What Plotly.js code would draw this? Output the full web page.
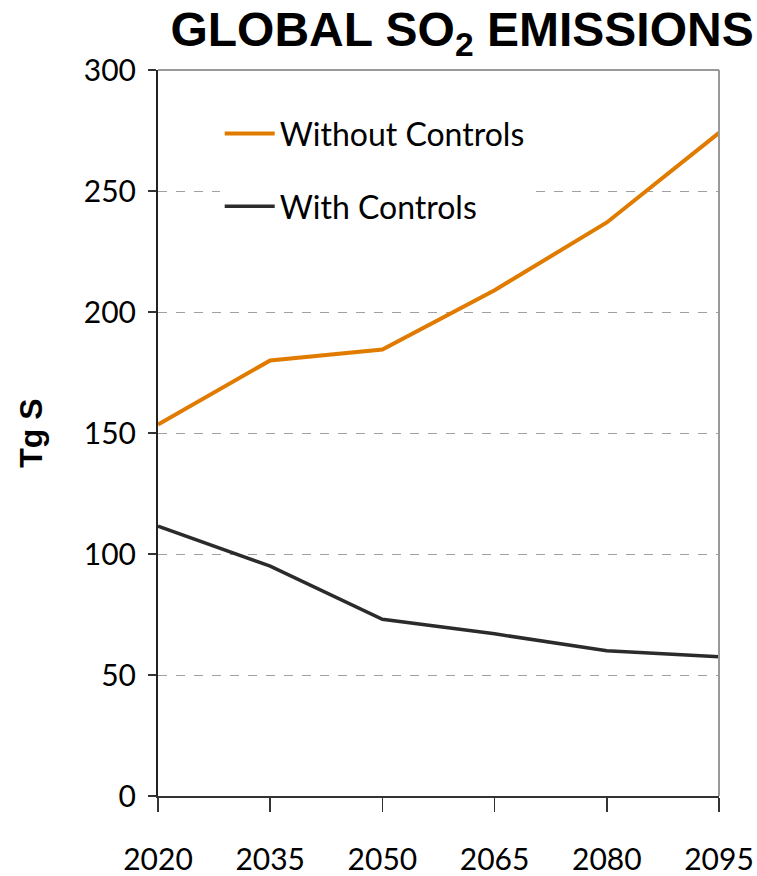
<!DOCTYPE html>
<html><head><meta charset="utf-8">
<script src="https://cdn.plot.ly/plotly-3.0.1.min.js"></script>
<style>html,body{margin:0;padding:0;background:#fff}</style>
</head><body>
<div id="chart" style="width:757px;height:876px"></div>
<script>
const years = [2020, 2035, 2050, 2065, 2080, 2095];
const withoutControls = [153.5, 180, 184.5, 209, 237, 274];
const withControls = [111.5, 95, 73, 67, 60, 57.5];
const yTicks = [0, 50, 100, 150, 200, 250, 300];

const traces = [
  {x: years, y: withoutControls, name: 'Without Controls', type: 'scatter', mode: 'lines',
   line: {color: '#E07B00', width: 4}, legendgroup: 'a'},
  {x: years, y: withControls, name: 'With Controls', type: 'scatter', mode: 'lines',
   line: {color: '#2b2b2b', width: 3.5}, legendgroup: 'b'}
];

const layout = {
  width: 757, height: 876,
  margin: {l: 158, r: 38, t: 70, b: 80},
  paper_bgcolor: '#fff', plot_bgcolor: '#fff',
  font: {family: 'Lato, "Open Sans", sans-serif', color: '#000'},
  title: {text: 'GLOBAL SO<sub>2</sub> EMISSIONS', x: 0.542, xref: 'paper', xanchor: 'center', y: 0.986, yanchor: 'top',
          font: {family: '"Liberation Sans", Arial, sans-serif', size: 48, weight: 'bold', color: '#000'}},
  xaxis: {
    range: [2020, 2095], tickvals: years, ticktext: years.map(String),
    showgrid: false, zeroline: false,
    showline: true, linecolor: '#333', linewidth: 2,
    ticks: 'outside', ticklen: 14, tickwidth: 1.5, tickcolor: '#333',
    ticklabelstandoff: 22,
    tickfont: {size: 30, family: 'Lato, sans-serif', color: '#000'}
  },
  yaxis: {
    range: [0, 300], tickvals: yTicks,
    showgrid: true, gridcolor: '#a0a0a0', griddash: 'dash', gridwidth: 1,
    zeroline: false,
    showline: true, linecolor: '#222', linewidth: 2,
    ticks: 'outside', ticklen: 8, tickwidth: 1.5, tickcolor: '#333',
    ticklabelstandoff: 6,
    tickfont: {size: 30, family: 'Lato, sans-serif', color: '#000'},
    title: {text: 'Tg S', standoff: 32, font: {size: 32, family: '"Liberation Sans", Arial, sans-serif', weight: 'bold', color: '#000'}}
  },
  showlegend: true,
  legend: {x: 0.11, y: 0.95, xanchor: 'left', yanchor: 'top', bgcolor: '#fff',
           font: {size: 32, family: 'Lato, sans-serif', color: '#000'},
           traceorder: 'grouped', tracegroupgap: 28, itemwidth: 50},
  shapes: [
    {type: 'line', xref: 'paper', yref: 'paper', x0: 0, x1: 1, y0: 1, y1: 1, line: {color: '#999', width: 2}},
    {type: 'line', xref: 'paper', yref: 'paper', x0: 1, x1: 1, y0: 0, y1: 1, line: {color: '#999', width: 2}}
  ]
};

Plotly.newPlot('chart', traces, layout, {displayModeBar: false, staticPlot: true});
</script>
</body></html>
